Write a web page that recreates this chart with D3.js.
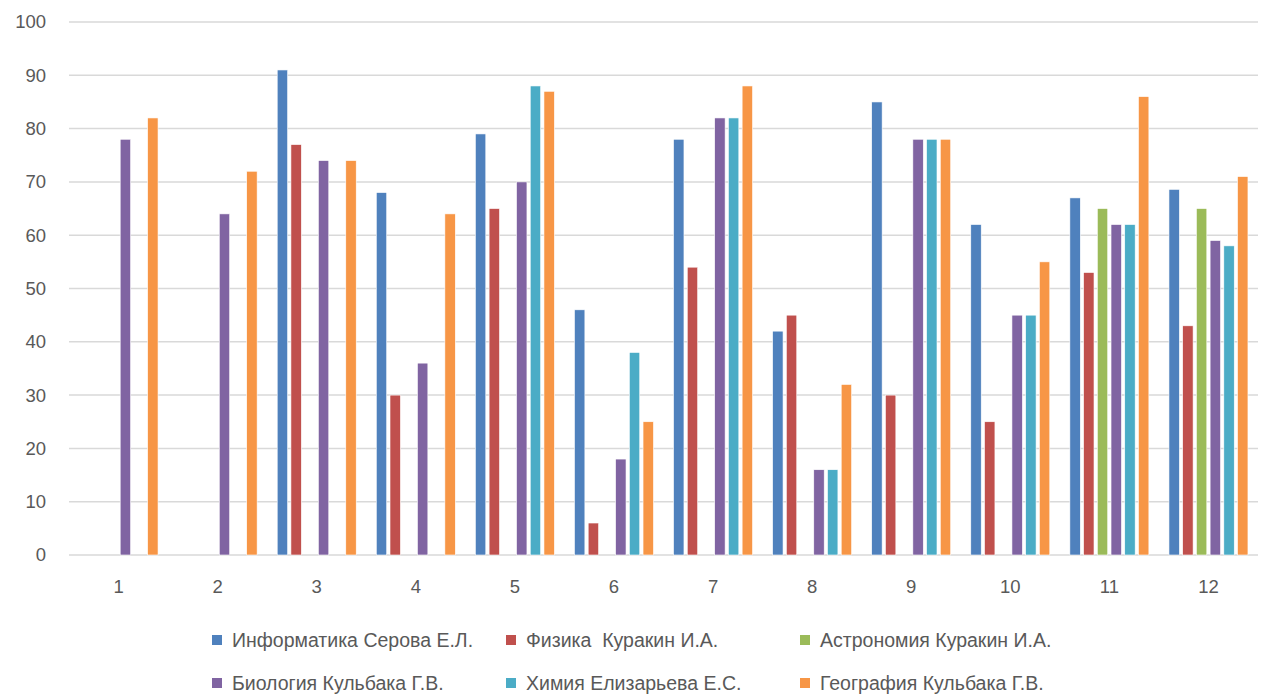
<!DOCTYPE html>
<html><head><meta charset="utf-8">
<script src="https://cdn.jsdelivr.net/npm/d3@7"></script>
<style>body{margin:0;background:#fff}svg{display:block}text{font-family:"Liberation Sans","DejaVu Sans",sans-serif}</style>
</head><body>
<svg id="c" width="1261" height="696"></svg>
<script>
const categories = ["1","2","3","4","5","6","7","8","9","10","11","12"];
const seriesNames = ["Информатика Серова Е.Л.","Физика  Куракин И.А.","Астрономия Куракин И.А.","Биология Кульбака Г.В.","Химия Елизарьева Е.С.","География Кульбака Г.В."];
const seriesColors = ["#4F81BD","#C0504D","#9BBB59","#8064A2","#4BACC6","#F79646"];
const informatika = [null,null,91,68,79,46,78,42,85,62,67,68.6];
const fizika      = [null,null,77,30,65,6,54,45,30,25,53,43];
const astronomiya = [null,null,null,null,null,null,null,null,null,null,65,65];
const biologiya   = [78,64,74,36,70,18,82,16,78,45,62,59];
const himiya      = [null,null,null,null,88,38,82,16,78,45,62,58];
const geografiya  = [82,72,74,64,87,25,88,32,78,55,86,71];
const yTicks = [0,10,20,30,40,50,60,70,80,90,100];
const seriesValues = [informatika,fizika,astronomiya,biologiya,himiya,geografiya];

(function(){
const svg = d3.select("#c");
const mLeft = 69, mRight = 1258, mTop = 22, mBottom = 555;
const x0 = d3.scaleBand().domain(categories).range([mLeft,mRight]).padding(0);
const groupW = 79;
const x1 = d3.scaleBand().domain(d3.range(seriesNames.length)).range([0,groupW]).paddingInner(0.24).paddingOuter(0);
const y = d3.scaleLinear().domain([0,100]).range([mBottom,mTop]);

svg.append("g").selectAll("line").data(yTicks).join("line")
  .attr("x1",mLeft).attr("x2",mRight)
  .attr("y1",d=>y(d)).attr("y2",d=>y(d))
  .attr("stroke","#d9d9d9").attr("stroke-width",1.5);

const yAxis = d3.axisLeft(y).tickValues(yTicks).tickSize(0).tickPadding(0);
const gy = svg.append("g").attr("transform",`translate(46,0)`).call(yAxis);
gy.select(".domain").remove();
gy.selectAll("text").attr("font-size",18.5).attr("fill","#595959").attr("font-family","Liberation Sans, sans-serif");

const xAxis = d3.axisBottom(x0).tickSize(0).tickPadding(0);
const gx = svg.append("g").attr("transform",`translate(0,580)`).call(xAxis);
gx.select(".domain").remove();
gx.selectAll("text").attr("font-size",18.5).attr("fill","#595959").attr("font-family","Liberation Sans, sans-serif");

const flat = [];
seriesValues.forEach((vals,si)=>vals.forEach((v,ci)=>{ if(v!=null) flat.push({si,ci,v}); }));
svg.append("g").selectAll("rect").data(flat).join("rect")
  .attr("x",d=>x0(categories[d.ci]) + x0.bandwidth()/2 - groupW/2 + x1(d.si))
  .attr("width",x1.bandwidth())
  .attr("y",d=>y(d.v))
  .attr("height",d=>y(0)-y(d.v))
  .attr("fill",d=>seriesColors[d.si])
  .attr("stroke","#fff").attr("stroke-width",0.6);

const legPos = [[212,640],[506,640],[800,640],[212,683],[506,683],[800,683]];
const lg = svg.append("g").selectAll("g").data(seriesNames).join("g")
  .attr("transform",(d,i)=>`translate(${legPos[i][0]},${legPos[i][1]})`);
lg.append("rect").attr("x",0).attr("y",-5).attr("width",10).attr("height",10).attr("fill",(d,i)=>seriesColors[i]);
lg.append("text").attr("x",20).attr("y",0).attr("dy","0.35em").attr("font-size",19.5).attr("fill","#595959").style("white-space","pre").text(d=>d);
})();
</script>
</body></html>
